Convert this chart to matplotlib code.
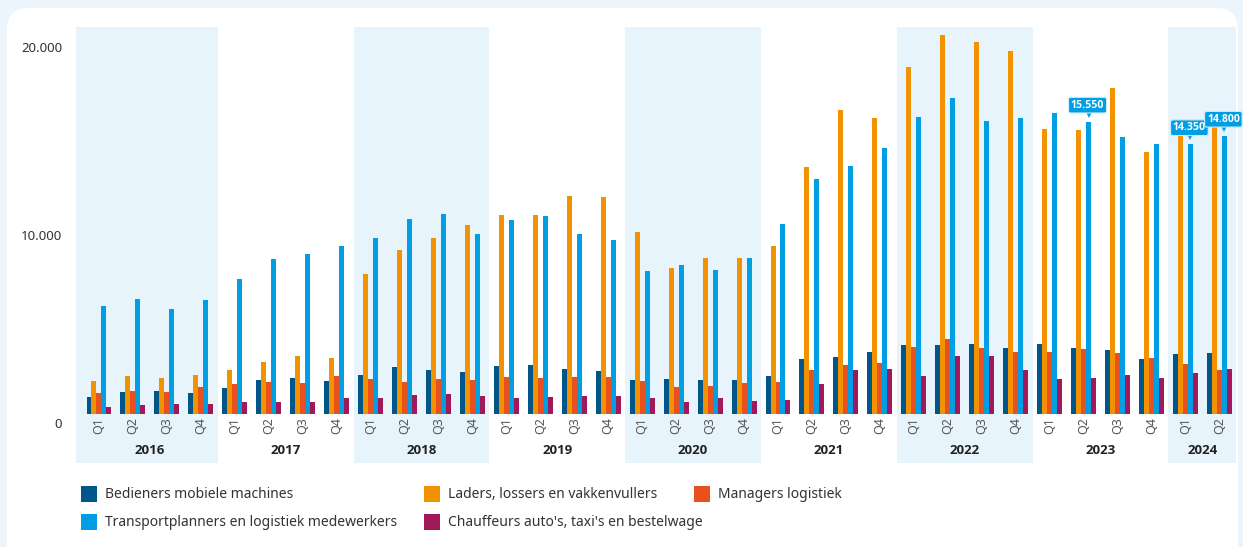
import numpy as np
import matplotlib.pyplot as plt
from matplotlib.patches import FancyBboxPatch, Rectangle
from matplotlib.transforms import ScaledTranslation

# Gegevens per kwartaal (2016 Q1 t/m 2024 Q2)
years = ['2016', '2017', '2018', '2019', '2020', '2021', '2022', '2023', '2024']
quarters_per_year = [4, 4, 4, 4, 4, 4, 4, 4, 2]
shaded_years = ['2016', '2018', '2020', '2022', '2024']

series_names = ['Bedieners mobiele machines', 'Laders, lossers en vakkenvullers',
                'Managers logistiek', 'Transportplanners en logistiek medewerkers',
                "Chauffeurs auto's, taxi's en bestelwage"]
series_colors = ['#00558A', '#F39200', '#E8501E', '#009FE3', '#A2195B']

bedieners = [900, 1150, 1200, 1100, 1400, 1800, 1900, 1750, 2050, 2500, 2350, 2250,
             2550, 2600, 2400, 2300, 1800, 1850, 1800, 1800, 2000, 2950, 3050, 3300,
             3650, 3650, 3700, 3500, 3700, 3500, 3400, 2900, 3200, 3250]
laders = [1750, 2000, 1900, 2050, 2350, 2750, 3100, 3000, 7450, 8700, 9350, 10050,
          10600, 10600, 11600, 11550, 9700, 7750, 8300, 8300, 8950, 13150, 16150, 15750,
          18450, 20150, 19800, 19300, 15150, 15100, 17350, 13950, 15000, 15700]
managers = [1100, 1200, 1150, 1450, 1600, 1700, 1650, 2000, 1850, 1700, 1850, 1800,
            1950, 1900, 1950, 1950, 1750, 1450, 1500, 1650, 1700, 2350, 2600, 2700,
            3550, 4000, 3500, 3300, 3300, 3450, 3250, 3000, 2650, 2350]
transport = [5750, 6100, 5600, 6050, 7200, 8250, 8500, 8950, 9350, 10350, 10650, 9550,
             10300, 10550, 9550, 9250, 7600, 7900, 7650, 8300, 10100, 12500, 13200, 14150,
             15800, 16800, 15600, 15750, 16000, 15550, 14750, 14350, 14350, 14800]
chauffeurs = [350, 500, 550, 550, 650, 650, 650, 850, 850, 1000, 1050, 950,
              850, 900, 950, 950, 850, 650, 850, 700, 750, 1600, 2350, 2400,
              2000, 3100, 3100, 2350, 1850, 1900, 2050, 1900, 2200, 2400]

# labels boven transportplanners (kwartaal-index)
tooltip_idx = [29, 32, 33]

all_series = [bedieners, laders, managers, transport, chauffeurs]

W, H = 1243, 547
fig = plt.figure(figsize=(W / 100, H / 100), dpi=100)
fig.patch.set_facecolor('#EDF5FC')

# witte kaart met ronde hoeken
card = FancyBboxPatch((7, -20), 1231, H - 8 + 20, boxstyle='round,pad=0,rounding_size=22',
                      transform=None, facecolor='white', edgecolor='none', zorder=-10)
fig.patches.append(card)

ax_left, ax_right, ax_top, ax_bottom = 76, 1236, 27, 463
ax = fig.add_axes([ax_left / W, 1 - ax_bottom / H, (ax_right - ax_left) / W, (ax_bottom - ax_top) / H])
ax.set_facecolor('none')
ax.set_zorder(1)
for s in ax.spines.values():
    s.set_visible(False)

n = sum(quarters_per_year)
x = np.arange(n)
bw = 0.147
for k, (vals, col) in enumerate(zip(all_series, series_colors)):
    ax.bar(x + (k - 2) * bw, vals, width=bw, color=col, zorder=2, linewidth=0)

px = 53.19  # waarde per pixel
x0 = -0.677
ax.set_ylim(-49 * px, 387 * px)
ax.set_xlim(x0, 33.49)

# jaarbanden + labels
start = 0
for yr, nq in zip(years, quarters_per_year):
    if yr in shaded_years:
        left = x0 if start == 0 else start - 0.5
        ax.axvspan(left, start + nq - 0.5, color='#E8F4FC', zorder=0, lw=0)
    for q in range(nq):
        ax.text(start + q, -12 * px, 'Q%d' % (q + 1), rotation=90, ha='center', va='center',
                fontsize=9, color='#555555', family='Noto Sans')
    ax.text(start + (nq - 1) / 2, -36.7 * px, yr, ha='center', va='center', fontsize=9.5,
            fontweight='bold', color='#222222', family='Open Sans')
    start += nq

ax.set_xticks([])
ax.set_yticks([0, 10000, 20000])
ax.set_yticklabels(['0', '10.000', '20.000'], fontsize=9.5, color='#333333', family='Noto Sans')
ax.tick_params(axis='y', length=0, pad=10)
for lbl in ax.get_yticklabels():
    lbl.set_transform(lbl.get_transform() + ScaledTranslation(0, -8.7 / 100, fig.dpi_scale_trans))

# tooltips
for i in tooltip_idx:
    v = transport[i]
    xb = i + 1 * bw
    ax.annotate(f'{v:,}'.replace(',', '.'), (xb, v), xytext=(-1, 16.5), textcoords='offset pixels',
                ha='center', va='center', fontsize=7.6, fontweight='bold', color='white',
                family='Open Sans', zorder=5,
                bbox=dict(boxstyle='round,pad=0.22,rounding_size=0.2', fc='#009FE3', ec='#CFEAF8', lw=0.8))
    ax.plot([xb], [v + 7 * px], marker='v', ms=4, color='#009FE3', zorder=4, mew=0)

# legenda
legend_pos = [(81, 494), (424, 494), (694, 494), (81, 522), (424, 522)]
for (lx, ly), name, col in zip(legend_pos, series_names, series_colors):
    fig.patches.append(Rectangle((lx, H - ly - 8), 16, 16, transform=None, facecolor=col,
                                 edgecolor='none'))
    fig.text((lx + 24) / W, 1 - ly / H, name, ha='left', va='center', fontsize=10,
             color='#333333', family='Noto Sans')

fig.savefig('out.png', dpi=100, facecolor=fig.get_facecolor())
